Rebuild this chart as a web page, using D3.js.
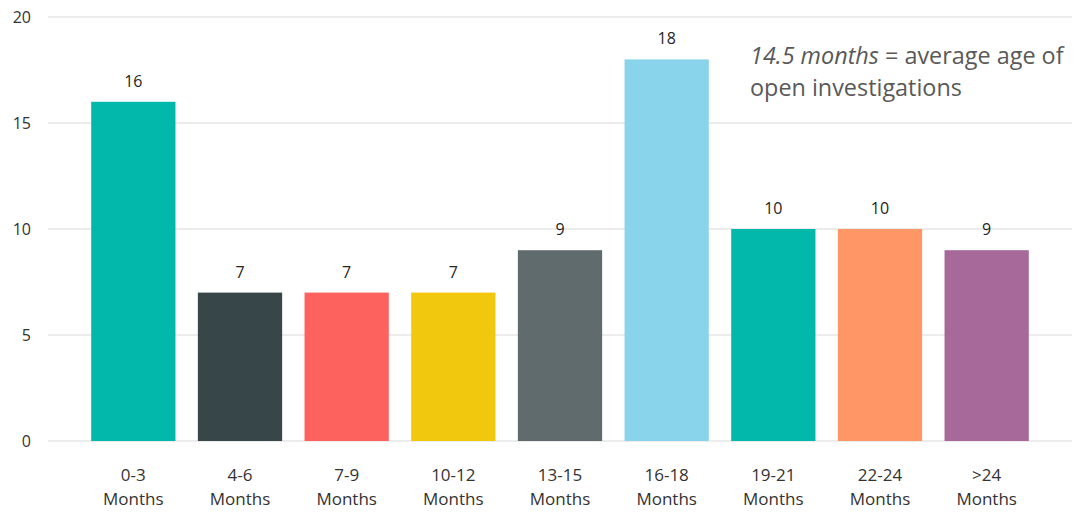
<!DOCTYPE html>
<html><head><meta charset="utf-8">
<script src="https://cdn.jsdelivr.net/npm/d3@7"></script>
<style>body{margin:0;background:#fff}svg{display:block}</style>
</head><body>
<svg id="c" width="1076" height="514"></svg>
<script>
const categories = ["0-3|Months","4-6|Months","7-9|Months","10-12|Months","13-15|Months","16-18|Months","19-21|Months","22-24|Months",">24|Months"];
const values = [16,7,7,7,9,18,10,10,9];
const colors = ["#01B8AA","#374649","#FD625E","#F2C80F","#5F6B6D","#8AD4EB","#01B8AA","#FE9666","#A66999"];
const yTicks = [0,5,10,15,20];

const svg = d3.select("#c");
const x = d3.scaleBand().domain(categories).range([80,1040]).paddingInner(0.21).paddingOuter(0.105);
const y = d3.scaleLinear().domain([0,20]).range([441,17]);

// gridlines
svg.append("g").selectAll("line").data(yTicks).join("line")
  .attr("x1",48).attr("x2",1072)
  .attr("y1",d=>y(d)).attr("y2",d=>y(d))
  .attr("stroke","#ECECEC").attr("stroke-width",2);

// y tick labels
svg.append("g").selectAll("text").data(yTicks).join("text")
  .attr("x",31).attr("y",d=>y(d)).attr("dy","0.35em")
  .attr("text-anchor","end")
  .attr("font-family","'Open Sans', sans-serif").attr("font-size",16)
  .attr("fill","#333").text(d=>d);

// bars
svg.append("g").selectAll("rect").data(values).join("rect")
  .attr("x",(d,i)=>x(categories[i])).attr("width",x.bandwidth())
  .attr("y",d=>y(d)).attr("height",d=>y(0)-y(d))
  .attr("fill",(d,i)=>colors[i]);

// value labels
svg.append("g").selectAll("text").data(values).join("text")
  .attr("x",(d,i)=>x(categories[i])+x.bandwidth()/2)
  .attr("y",d=>y(d)-15)
  .attr("text-anchor","middle")
  .attr("font-family","'Open Sans', sans-serif").attr("font-size",16).attr("font-weight",500)
  .attr("fill","#252423").text(d=>d);

// x labels
const xl = svg.append("g").selectAll("text").data(categories).join("text")
  .attr("x",d=>x(d)+x.bandwidth()/2)
  .attr("y",481)
  .attr("text-anchor","middle")
  .attr("font-family","'Open Sans', sans-serif").attr("font-size",17)
  .attr("fill","#333");
xl.each(function(d){
  const parts = d.split("|");
  const t = d3.select(this);
  parts.forEach((p,k)=>{
    t.append("tspan").attr("x",x(d)+x.bandwidth()/2).attr("dy",k===0?0:24).text(p);
  });
});

// annotation
const ann = svg.append("text").attr("x",750).attr("y",64)
  .attr("font-family","'Open Sans', sans-serif").attr("font-size",23.4).attr("fill","#595959");
ann.append("tspan").attr("font-style","italic").text("14.5 months");
ann.append("tspan").text(" = average age of");
svg.append("text").attr("x",750).attr("y",96)
  .attr("font-family","'Open Sans', sans-serif").attr("font-size",23.4).attr("fill","#595959")
  .text("open investigations");
</script>
</body></html>
